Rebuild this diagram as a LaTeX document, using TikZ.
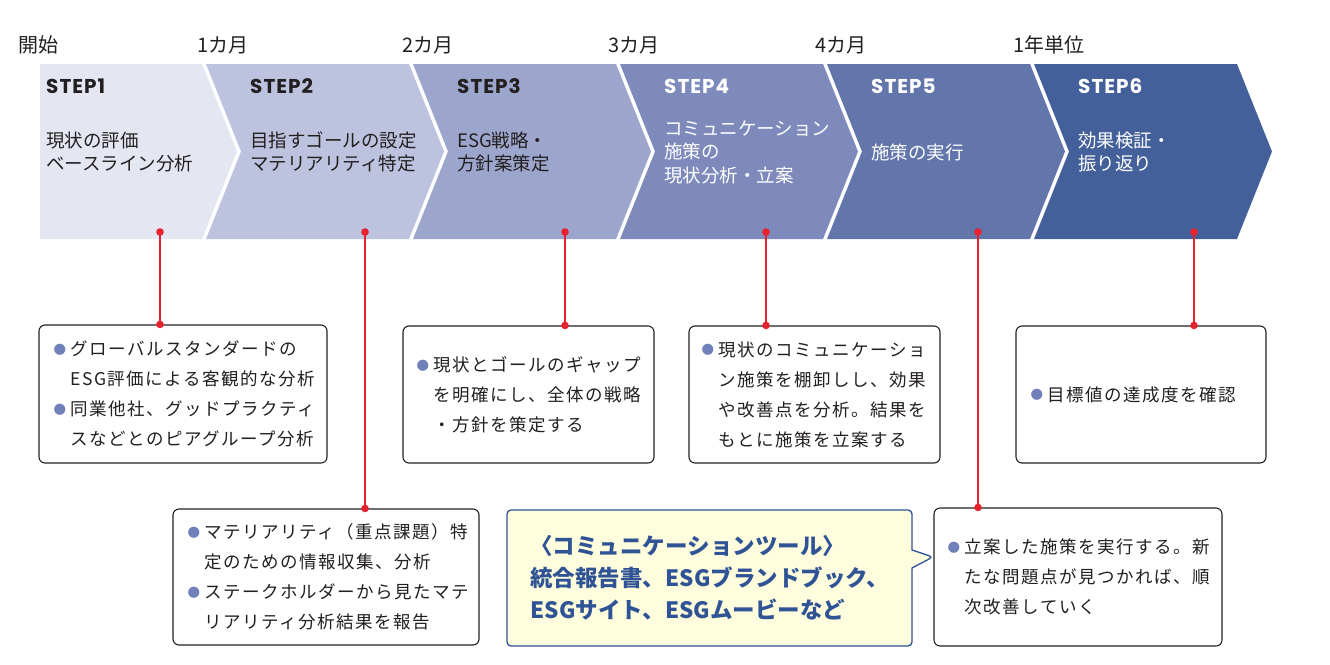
\documentclass[tikz,border=0pt]{standalone}
\usepackage{fontspec}
\setmainfont{Noto Sans CJK JP}
\newfontfamily\jpfont{Noto Sans CJK JP}
\newfontfamily\boxfont{Noto Sans CJK JP}[LetterSpace=8.5]
\newfontfamily\stepfont{Poppins}[LetterSpace=5.0]
\usetikzlibrary{positioning,fit,shapes.callouts,arrows.meta}
\definecolor{stepA}{HTML}{E4E6F2}
\definecolor{stepB}{HTML}{BDC2DF}
\definecolor{stepC}{HTML}{9CA6CC}
\definecolor{stepD}{HTML}{7D8ABB}
\definecolor{stepE}{HTML}{6276AB}
\definecolor{stepF}{HTML}{44609A}
\definecolor{pinred}{HTML}{E5222E}
\definecolor{dotblue}{HTML}{7080B8}
\definecolor{inkgray}{HTML}{231F20}
\definecolor{toolfill}{HTML}{FEFDDD}
\definecolor{toolblue}{HTML}{2F5394}
\newcommand{\bulletdot}{\makebox[17pt][l]{\raisebox{1.2pt}{\jpfont\fontsize{12.5}{12.5}\selectfont\textcolor{dotblue}{●}}}}
\newcommand{\hangpad}{\makebox[17pt]{}}
\tikzstyle{month} = [anchor=west, inner sep=0pt, text=inkgray, font=\jpfont\fontsize{20}{20}\selectfont]
\tikzstyle{steplabel} = [anchor=west, inner sep=0pt, font=\stepfont\bfseries\fontsize{20}{20}\selectfont]
\tikzstyle{steptext} = [anchor=west, inner sep=0pt, align=left, font=\jpfont\fontsize{18.5}{23.5}\selectfont]
\tikzstyle{infobox} = [rectangle, draw=inkgray, line width=1.1pt, rounded corners=6pt, inner sep=0pt, fill=white]
\tikzstyle{boxtext} = [inner sep=0pt, align=left, text=inkgray, font=\boxfont\fontsize{17.5}{30}\selectfont]
\tikzstyle{toolbox} = [rectangle callout, draw=toolblue, fill=toolfill, line width=1.3pt, rounded corners=4pt, callout pointer width=18pt, align=left, text=toolblue, font=\jpfont\bfseries\fontsize{22.5}{32}\selectfont]
\tikzstyle{connector} = [draw=pinred, line width=1.3pt, {Circle[length=7.5pt]}-{Circle[length=7.5pt]}, shorten <=-3.75pt, shorten >=-3.75pt]

\begin{document}
\begin{tikzpicture}[x=1pt, y=-1pt]
            \useasboundingbox (0,0) rectangle (1330,664);
            \fill [stepA] (40,64) -- (202,64) -- (237,151.5) -- (202,239) -- (40,239) -- cycle;
            \foreach \i/\col in {2/stepB,3/stepC,4/stepD,5/stepE,6/stepF} {
                \pgfmathsetmacro\s{206+207*(\i-2)}
                \fill [\col] (\s,64) -- (\s+203,64) -- (\s+238,151.5) -- (\s+203,239) -- (\s,239) -- (\s+35,151.5) -- cycle;
            }
            \node (m0) [month] at (18,45) {開始};
            \node (m1) [month] at (197,45) {1カ月};
            \node (m2) [month] at (402,45) {2カ月};
            \node (m3) [month] at (608,45) {3カ月};
            \node (m4) [month] at (815,45) {4カ月};
            \node (m5) [month] at (1013,45) {1年単位};
            \node (step1) [steplabel, text=inkgray] at (46,86) {STEP1};
            \node (step2) [steplabel, text=inkgray] at (250,86) {STEP2};
            \node (step3) [steplabel, text=inkgray] at (457,86) {STEP3};
            \node (step4) [steplabel, text=white] at (664,86) {STEP4};
            \node (step5) [steplabel, text=white] at (871,86) {STEP5};
            \node (step6) [steplabel, text=white] at (1078,86) {STEP6};
            \node (desc1) [steptext, text=inkgray] at (46,152) {現状の評価\\ベースライン分析};
            \node (desc2) [steptext, text=inkgray] at (250,152) {目指すゴールの設定\\マテリアリティ特定};
            \node (desc3) [steptext, text=inkgray] at (457,152) {ESG戦略・\\方針案策定};
            \node (desc4) [steptext, text=white] at (664,152) {コミュニケーション\\施策の\\現状分析・立案};
            \node (desc5) [steptext, text=white] at (871,152) {施策の実行};
            \node (desc6) [steptext, text=white] at (1078,152) {効果検証・\\振り返り};
            \coordinate (pin1) at (160,232);
            \coordinate (pin2) at (365,232);
            \coordinate (pin3) at (565,232);
            \coordinate (pin4) at (766,232);
            \coordinate (pin5) at (978,232);
            \coordinate (pin6) at (1194,232);
            \node (box1) [infobox, fit={(39,325) (327,463)}] {};
            \node (box2) [infobox, fit={(173,509) (479,645)}] {};
            \node (box3) [infobox, fit={(403,326) (654,463)}] {};
            \node (box4) [infobox, fit={(689,326) (940,463)}] {};
            \node (box5) [infobox, fit={(1016,326) (1266,463)}] {};
            \node (box6) [infobox, fit={(934,508) (1222,646)}] {};
            \node (txt1) [boxtext, right=15pt of box1.west] {\bulletdot グローバルスタンダードの\\\hangpad ESG評価による客観的な分析\\\bulletdot 同業他社、グッドプラクティ\\\hangpad スなどとのピアグループ分析};
            \node (txt2) [boxtext, right=15pt of box2.west] {\bulletdot マテリアリティ（重点課題）特\\\hangpad 定のための情報収集、分析\\\bulletdot ステークホルダーから見たマテ\\\hangpad リアリティ分析結果を報告};
            \node (txt3) [boxtext, right=14pt of box3.west] {\bulletdot 現状とゴールのギャップ\\\hangpad を明確にし、全体の戦略\\\hangpad ・方針を策定する};
            \node (txt4) [boxtext, right=13pt of box4.west] {\bulletdot 現状のコミュニケーショ\\\hangpad ン施策を棚卸しし、効果\\\hangpad や改善点を分析。結果を\\\hangpad もとに施策を立案する};
            \node (txt5) [boxtext, right=15pt of box5.west] {\bulletdot 目標値の達成度を確認};
            \node (txt6) [boxtext, right=14pt of box6.west] {\bulletdot 立案した施策を実行する。新\\\hangpad たな問題点が見つかれば、順\\\hangpad 次改善していく};
            \coordinate (tip) at (933,557);
            \node (tools) [toolbox, callout absolute pointer={(tip)}, minimum width=405pt, minimum height=136pt] at (709.5,578) {〈コミュニケーションツール〉\\統合報告書、ESGブランドブック、\\ESGサイト、ESGムービーなど};
            \draw [connector] (pin1) -- (pin1 |- box1.north);
            \draw [connector] (pin2) -- (pin2 |- box2.north);
            \draw [connector] (pin3) -- (pin3 |- box3.north);
            \draw [connector] (pin4) -- (pin4 |- box4.north);
            \draw [connector] (pin5) -- (pin5 |- box6.north);
            \draw [connector] (pin6) -- (pin6 |- box5.north);
        \end{tikzpicture}
\end{document}
